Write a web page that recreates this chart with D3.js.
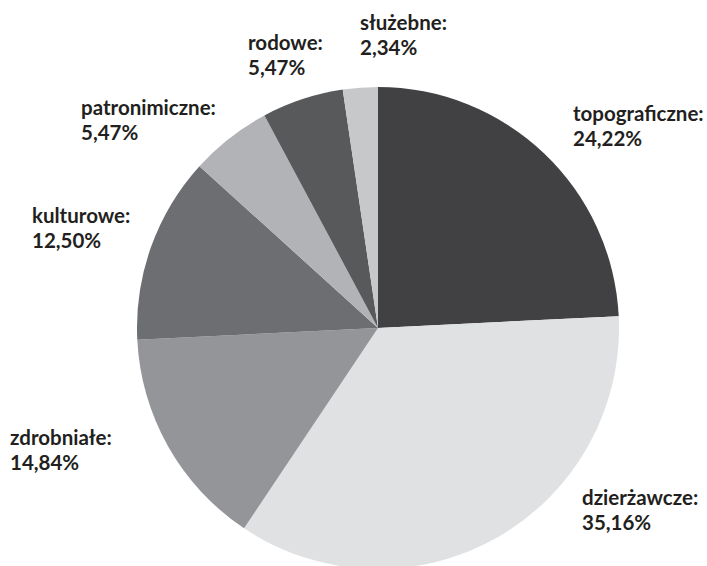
<!DOCTYPE html>
<html>
<head>
<meta charset="utf-8">
<script src="https://cdn.jsdelivr.net/npm/d3@7"></script>
<style>
  body { margin: 0; background: #fff; }
</style>
</head>
<body>
<div id="chart"></div>
<script>
// Categories and shares (%), clockwise from 12 o'clock
const categories = ["topograficzne", "dzierżawcze", "zdrobniałe", "kulturowe", "patronimiczne", "rodowe", "służebne"];
const shares = [24.22, 35.16, 14.84, 12.50, 5.47, 5.47, 2.34];
const colors = ["#414042", "#e0e1e2", "#939598", "#6d6e71", "#b1b3b6", "#58595b", "#c7c8ca"];

// label anchor (left x, first baseline y)
const labelPos = [[573, 121], [582, 505], [10, 445], [32, 223], [81, 115], [248, 50], [360, 30]];

const width = 707, height = 566;
const cx = 378, cy = 328, radius = 241;

const svg = d3.select("#chart").append("svg")
    .attr("width", width)
    .attr("height", height);

const data = categories.map((c, i) => ({name: c, value: shares[i], color: colors[i], pos: labelPos[i]}));

const pie = d3.pie()
    .sort(null)
    .value(d => d.value);

const arc = d3.arc()
    .innerRadius(0)
    .outerRadius(radius);

svg.append("g")
    .attr("transform", "translate(" + cx + "," + cy + ")")
    .selectAll("path")
    .data(pie(data))
    .join("path")
    .attr("d", arc)
    .attr("fill", d => d.data.color);

// Labels: name on first line, percent on second
const fmt = v => v.toFixed(2).replace(".", ",") + "%";

const labels = svg.append("g")
    .attr("font-family", "Lato, sans-serif")
    .attr("font-weight", "bold")
    .attr("font-size", 20.5)
    .attr("fill", "#231f20")
    .selectAll("text")
    .data(data)
    .join("text")
    .attr("x", d => d.pos[0])
    .attr("y", d => d.pos[1]);

labels.append("tspan")
    .text(d => d.name + ":");

labels.append("tspan")
    .attr("x", d => d.pos[0])
    .attr("dy", 25)
    .text(d => fmt(d.value));
</script>
</body>
</html>
